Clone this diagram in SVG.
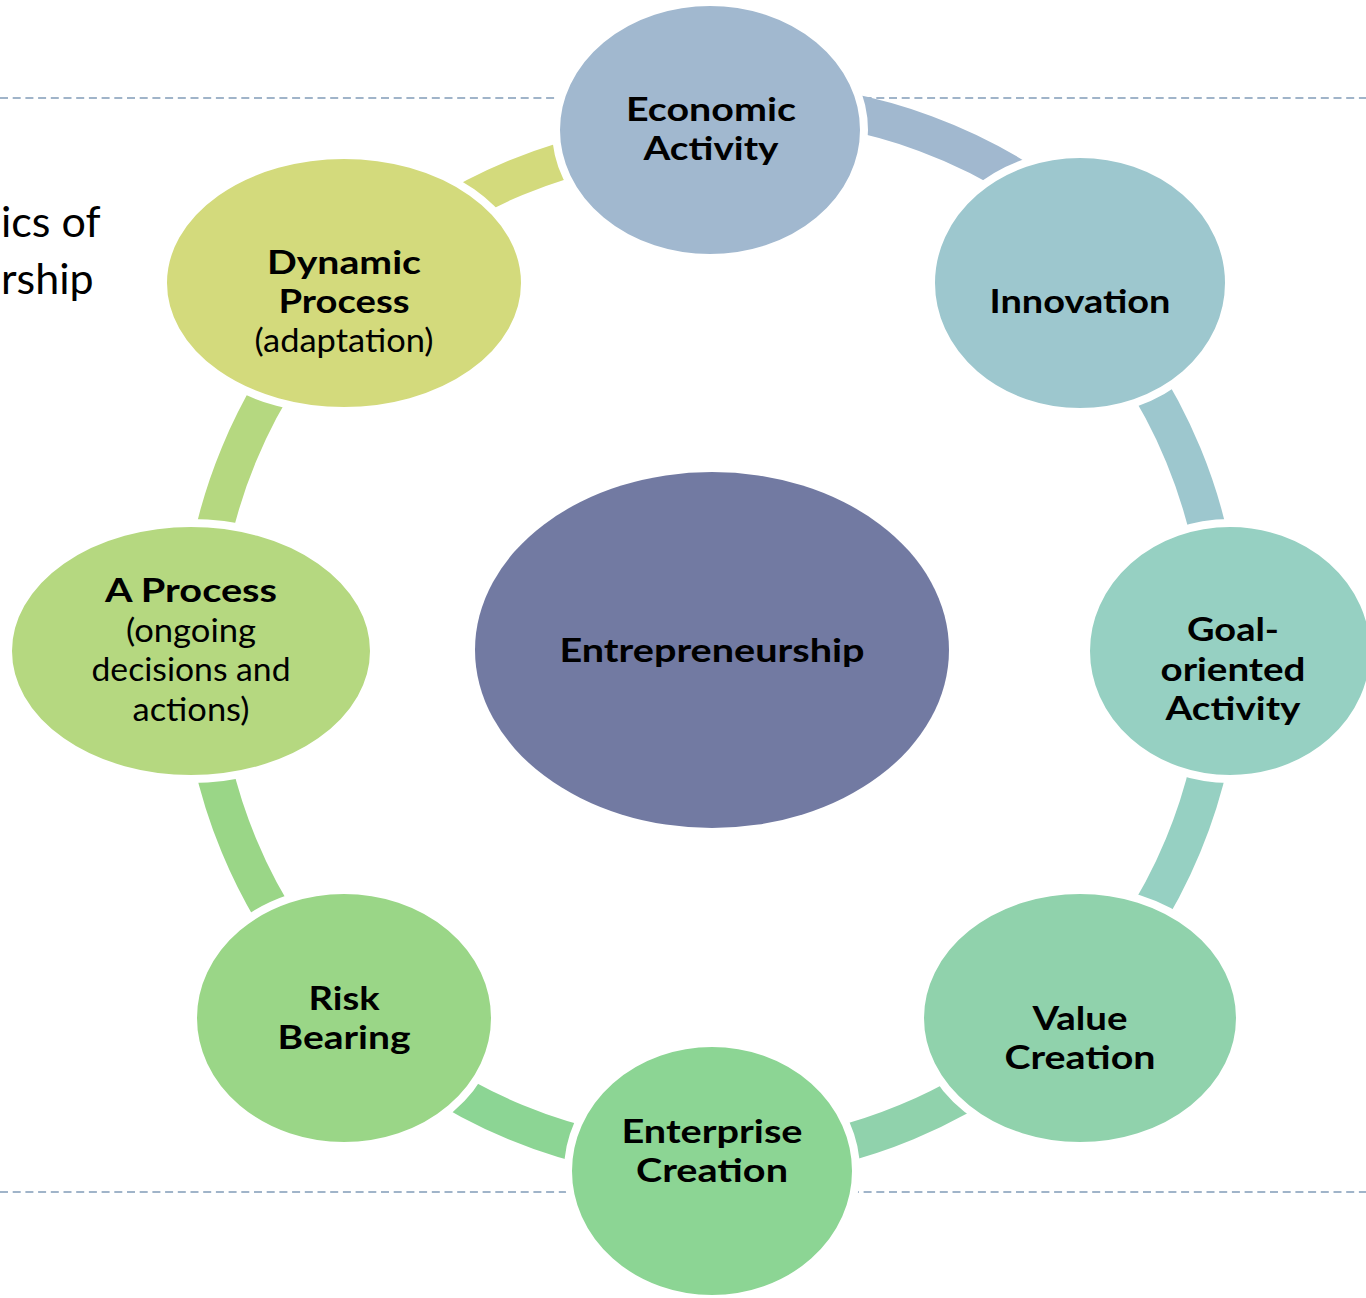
<svg xmlns="http://www.w3.org/2000/svg" width="1366" height="1298" viewBox="0 0 1366 1298">
<style>
.dash{stroke:#A0B4C9;stroke-width:2;stroke-dasharray:8 4.7;fill:none}
.band{fill:none;stroke-width:37}
.node{stroke:#fff;stroke-width:8}
.b{font-family:Lato,"Open Sans","Liberation Sans",sans-serif;font-weight:bold;font-size:32px;fill:#000;text-anchor:middle}
.r{font-family:Lato,"Open Sans","Liberation Sans",sans-serif;font-weight:normal;font-size:32px;fill:#000;text-anchor:middle}
.title{font-family:Lato,"Open Sans","Liberation Sans",sans-serif;font-size:43px;fill:#000;text-anchor:start}
</style>
<rect width="1366" height="1298" fill="#fff"/>
<g id="title">
<text class="title" x="1" y="237">ics of</text>
<text class="title" x="1" y="294">rship</text>
</g>
<g id="guides">
<line class="dash" x1="0" y1="98" x2="1366" y2="98"/>
<line class="dash" x1="0" y1="1192" x2="1366" y2="1192"/>
</g>
<g id="connectors">
<path class="band" stroke="#D3DA7C" d="M349.7 288.7 A511 511 0 0 1 711 139"/>
<path class="band" stroke="#A1B8CF" d="M707.5 103.6 A511 511 0 0 1 1110.4 252.3"/>
<path class="band" stroke="#9DC7CE" d="M1073.4 289.8 A511 511 0 0 1 1222 650"/>
<path class="band" stroke="#96D0C2" d="M1222 650 A511 511 0 0 1 1072.3 1011.3"/>
<path class="band" stroke="#90D2AC" d="M1072.3 1011.3 A511 511 0 0 1 711 1161"/>
<path class="band" stroke="#8CD594" d="M711 1161 A511 511 0 0 1 349.7 1011.3"/>
<path class="band" stroke="#9AD687" d="M349.7 1011.3 A511 511 0 0 1 200 650"/>
<path class="band" stroke="#B5D880" d="M200 650 A511 511 0 0 1 349.7 288.7"/>
</g>
<g id="node-center">
<ellipse cx="712" cy="650" rx="237" ry="178" fill="#727AA2"/>
<text class="b" x="712" y="662" textLength="305" lengthAdjust="spacingAndGlyphs">Entrepreneurship</text>
</g>
<g id="node-economic">
<ellipse class="node" cx="710" cy="130" rx="154" ry="128" fill="#A1B8CF"/>
<text class="b" x="711" y="121" textLength="170" lengthAdjust="spacingAndGlyphs">Economic</text>
<text class="b" x="711" y="160" textLength="135" lengthAdjust="spacingAndGlyphs">Activity</text>
</g>
<g id="node-innovation">
<ellipse class="node" cx="1080" cy="283" rx="149" ry="129" fill="#9DC7CE"/>
<text class="b" x="1080" y="313" textLength="181" lengthAdjust="spacingAndGlyphs">Innovation</text>
</g>
<g id="node-goal">
<ellipse class="node" cx="1230" cy="651" rx="144" ry="128" fill="#96D0C2"/>
<text class="b" x="1233" y="641" textLength="92" lengthAdjust="spacingAndGlyphs">Goal-</text>
<text class="b" x="1233" y="681" textLength="145" lengthAdjust="spacingAndGlyphs">oriented</text>
<text class="b" x="1233" y="720" textLength="135" lengthAdjust="spacingAndGlyphs">Activity</text>
</g>
<g id="node-value">
<ellipse class="node" cx="1080" cy="1018" rx="160" ry="128" fill="#90D2AC"/>
<text class="b" x="1080" y="1030" textLength="95" lengthAdjust="spacingAndGlyphs">Value</text>
<text class="b" x="1080" y="1069" textLength="151" lengthAdjust="spacingAndGlyphs">Creation</text>
</g>
<g id="node-enterprise">
<ellipse class="node" cx="712" cy="1171" rx="144" ry="128" fill="#8CD594"/>
<text class="b" x="712" y="1143" textLength="181" lengthAdjust="spacingAndGlyphs">Enterprise</text>
<text class="b" x="712" y="1182" textLength="152" lengthAdjust="spacingAndGlyphs">Creation</text>
</g>
<g id="node-risk">
<ellipse class="node" cx="344" cy="1018" rx="151" ry="128" fill="#9AD687"/>
<text class="b" x="344" y="1010" textLength="71" lengthAdjust="spacingAndGlyphs">Risk</text>
<text class="b" x="344" y="1049" textLength="133" lengthAdjust="spacingAndGlyphs">Bearing</text>
</g>
<g id="node-aprocess">
<ellipse class="node" cx="191" cy="651" rx="183" ry="128" fill="#B5D880"/>
<text class="b" x="191" y="602" textLength="172" lengthAdjust="spacingAndGlyphs">A Process</text>
<text class="r" x="191" y="641.5" textLength="130" lengthAdjust="spacingAndGlyphs">(ongoing</text>
<text class="r" x="191" y="681" textLength="199" lengthAdjust="spacingAndGlyphs">decisions and</text>
<text class="r" x="191" y="720.5" textLength="117" lengthAdjust="spacingAndGlyphs">actions)</text>
</g>
<g id="node-dynamic">
<ellipse class="node" cx="344" cy="283" rx="181" ry="128" fill="#D3DA7C"/>
<text class="b" x="344" y="274" textLength="154" lengthAdjust="spacingAndGlyphs">Dynamic</text>
<text class="b" x="344" y="313" textLength="131" lengthAdjust="spacingAndGlyphs">Process</text>
<text class="r" x="344" y="352" textLength="179" lengthAdjust="spacingAndGlyphs">(adaptation)</text>
</g>
</svg>
